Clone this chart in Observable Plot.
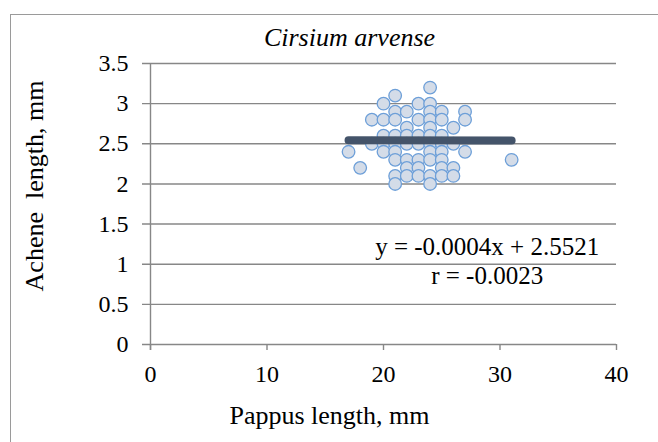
<!DOCTYPE html>
<html>
<head>
<meta charset="utf-8">
<script src="https://cdn.jsdelivr.net/npm/d3@7"></script>
<script src="https://cdn.jsdelivr.net/npm/@observablehq/plot@0.6"></script>
<style>
  html, body { margin: 0; padding: 0; background: #fff; overflow: hidden; }
  #wrap { position: relative; width: 658px; height: 442px; overflow: hidden; }
  #border { position: absolute; left: 10px; top: 14px; width: 700px; height: 500px; border: 1px solid #9a9a9a; box-sizing: border-box; }
  #chart { position: absolute; left: 0; top: 0; }
</style>
</head>
<body>
<div id="wrap"><div id="border"></div><div id="chart"></div></div>
<script>
const titleText = "Cirsium arvense";
const xLabel = "Pappus length, mm";
const yLabel = "Achene  length, mm";
const xTicks = [0, 10, 20, 30, 40];
const yTicks = [0, 0.5, 1, 1.5, 2, 2.5, 3, 3.5];

const pappusLength = [
  17,
  18,
  19, 19,
  20, 20, 20, 20, 20,
  21, 21, 21, 21, 21, 21, 21, 21, 21,
  22, 22, 22, 22, 22, 22, 22,
  23, 23, 23, 23, 23, 23, 23,
  24, 24, 24, 24, 24, 24, 24, 24, 24, 24, 24,
  25, 25, 25, 25, 25, 25, 25, 25,
  26, 26, 26, 26,
  27, 27, 27,
  31
];
const acheneLength = [
  2.4,
  2.2,
  2.8, 2.5,
  3.0, 2.8, 2.6, 2.5, 2.4,
  3.1, 2.9, 2.8, 2.6, 2.5, 2.4, 2.3, 2.1, 2.0,
  2.9, 2.7, 2.6, 2.5, 2.3, 2.2, 2.1,
  3.0, 2.8, 2.6, 2.5, 2.3, 2.2, 2.1,
  3.2, 3.0, 2.9, 2.8, 2.7, 2.6, 2.5, 2.4, 2.3, 2.1, 2.0,
  2.9, 2.8, 2.6, 2.5, 2.4, 2.3, 2.2, 2.1,
  2.7, 2.5, 2.2, 2.1,
  2.9, 2.8, 2.4,
  2.3
];
const trendX = [17, 31];
const trendY = [2.545, 2.540];
const equationText = "y = -0.0004x + 2.5521";
const rText = "r = -0.0023";

const points = pappusLength.map((x, i) => ({x, y: acheneLength[i]}));
const trend = trendX.map((x, i) => ({x, y: trendY[i]}));

const font = "Liberation Serif, Times New Roman, serif";
const grid = "#878787";

const chart = Plot.plot({
  width: 658,
  height: 442,
  marginLeft: 150,
  marginRight: 42,
  marginTop: 63,
  marginBottom: 98,
  style: {fontFamily: font, fontSize: "24px", background: "transparent", color: "#000", overflow: "visible"},
  x: {domain: [0, 40]},
  y: {domain: [0, 3.5]},
  marks: [
    Plot.ruleY(yTicks, {y: d => d, stroke: grid, strokeWidth: 1.4, insetLeft: -8}),
    Plot.ruleX([0], {stroke: grid, strokeWidth: 1.4, insetBottom: -6}),
    Plot.axisX({ticks: xTicks, tickSize: 6, stroke: grid, strokeWidth: 1.4, tickPadding: 14, label: null, fontSize: 24, tickFormat: d => String(d)}),
    Plot.axisY({ticks: yTicks, tickSize: 0, tickPadding: 22, label: null, fontSize: 24, tickFormat: d => String(d)}),
    Plot.dot(points, {x: "x", y: "y", r: 6.3, fill: "#d4dce8", stroke: "#6d9fd8", strokeWidth: 1.3}),
    Plot.line(trend, {x: "x", y: "y", stroke: "#44546a", strokeWidth: 8, strokeLinecap: "round"}),
    Plot.text([equationText], {x: 28.9, y: 1.21, text: d => d, fontSize: 25, fill: "#000"}),
    Plot.text([rText], {x: 28.9, y: 0.85, text: d => d, fontSize: 25, fill: "#000"}),
    Plot.text([titleText], {frameAnchor: "top", textAnchor: "middle", lineAnchor: "middle", dx: -34, dy: -26, text: d => d, fontSize: 26, fontFamily: "Liberation Serif", fontStyle: "italic", fill: "#000"}),
    Plot.text([xLabel], {frameAnchor: "bottom", textAnchor: "middle", lineAnchor: "middle", dx: -54, dy: 71, text: d => d, fontSize: 26, fill: "#000"}),
    Plot.text([yLabel], {frameAnchor: "left", textAnchor: "middle", lineAnchor: "middle", dx: -116, dy: -18, rotate: -90, text: d => d, fontSize: 26, fill: "#000"})
  ]
});
document.getElementById("chart").appendChild(chart);
</script>
</body>
</html>
